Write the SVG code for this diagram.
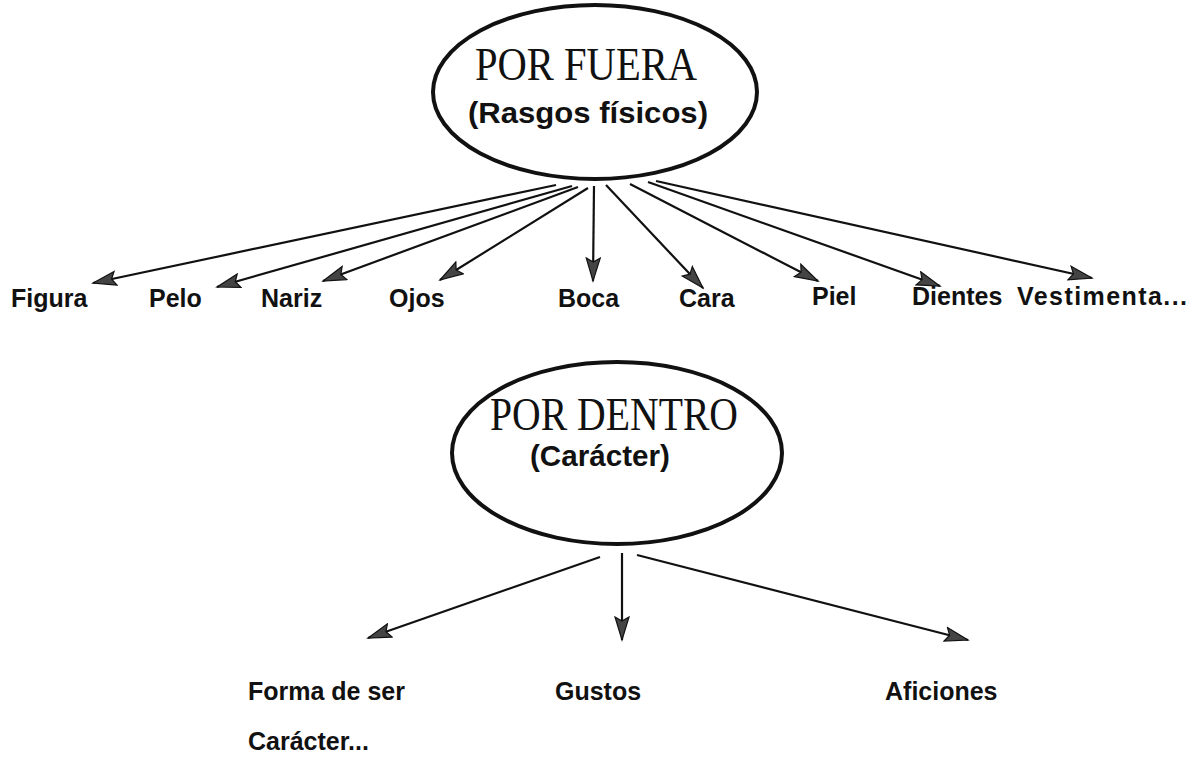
<svg xmlns="http://www.w3.org/2000/svg" width="1203" height="767" viewBox="0 0 1203 767">
<defs>
<style>
.bubble{fill:none;stroke:#111;stroke-width:4}
.title{font-family:"Liberation Serif","DejaVu Serif",serif;font-size:46px;fill:#111;text-anchor:middle}
.sub{font-family:"Liberation Sans",Arial,sans-serif;font-weight:bold;font-size:30px;fill:#111;text-anchor:middle}
.lbl{font-family:"Liberation Sans",Arial,sans-serif;font-weight:bold;font-size:25px;fill:#111}
.conn{stroke:#111;stroke-width:2.2;fill:none;marker-end:url(#arr)}
</style>
<marker id="arr" markerUnits="userSpaceOnUse" markerWidth="26" markerHeight="16" refX="24" refY="8" orient="auto">
<path d="M1,1 L24,8 L1,15 L5,8 z" fill="#444" stroke="#111" stroke-width="1.2"/>
</marker>
</defs>
<rect width="1203" height="767" fill="#fff"/>
<g id="por-fuera">
<ellipse class="bubble" cx="595" cy="92" rx="162" ry="87"/>
<text class="title" x="586" y="80" textLength="222" lengthAdjust="spacingAndGlyphs">POR FUERA</text>
<text class="sub" x="588" y="123" textLength="240" lengthAdjust="spacingAndGlyphs">(Rasgos físicos)</text>
</g>
<g id="por-dentro">
<ellipse class="bubble" cx="617" cy="453" rx="165" ry="91"/>
<text class="title" x="614" y="430" textLength="248" lengthAdjust="spacingAndGlyphs">POR DENTRO</text>
<text class="sub" x="600" y="466" textLength="140" lengthAdjust="spacingAndGlyphs">(Carácter)</text>
</g>
<g id="figura"><text class="lbl" x="11" y="307">Figura</text></g>
<g id="pelo"><text class="lbl" x="149" y="307">Pelo</text></g>
<g id="nariz"><text class="lbl" x="261" y="307">Nariz</text></g>
<g id="ojos"><text class="lbl" x="389" y="307">Ojos</text></g>
<g id="boca"><text class="lbl" x="558" y="307">Boca</text></g>
<g id="cara"><text class="lbl" x="679" y="307">Cara</text></g>
<g id="piel"><text class="lbl" x="812" y="305">Piel</text></g>
<g id="dientes"><text class="lbl" x="912" y="305">Dientes</text></g>
<g id="vestimenta"><text class="lbl" x="1017" y="305" textLength="170" lengthAdjust="spacing">Vestimenta...</text></g>
<g id="forma-de-ser"><text class="lbl" x="248" y="700">Forma de ser</text><text class="lbl" x="248" y="750">Carácter...</text></g>
<g id="gustos"><text class="lbl" x="555" y="700">Gustos</text></g>
<g id="aficiones"><text class="lbl" x="885" y="700">Aficiones</text></g>
<g id="connectors">
<line class="conn" x1="556" y1="185" x2="93" y2="283"/>
<line class="conn" x1="572" y1="186" x2="217" y2="287"/>
<line class="conn" x1="578" y1="187" x2="323" y2="281"/>
<line class="conn" x1="588" y1="188" x2="440" y2="280"/>
<line class="conn" x1="594" y1="186" x2="593" y2="281"/>
<line class="conn" x1="606" y1="185" x2="703" y2="288"/>
<line class="conn" x1="630" y1="184" x2="818" y2="281"/>
<line class="conn" x1="648" y1="182" x2="940" y2="286"/>
<line class="conn" x1="656" y1="181" x2="1092" y2="278"/>
<line class="conn" x1="600" y1="557" x2="368" y2="638"/>
<line class="conn" x1="622" y1="553" x2="622" y2="640"/>
<line class="conn" x1="637" y1="555" x2="968" y2="640"/>
</g>
</svg>
